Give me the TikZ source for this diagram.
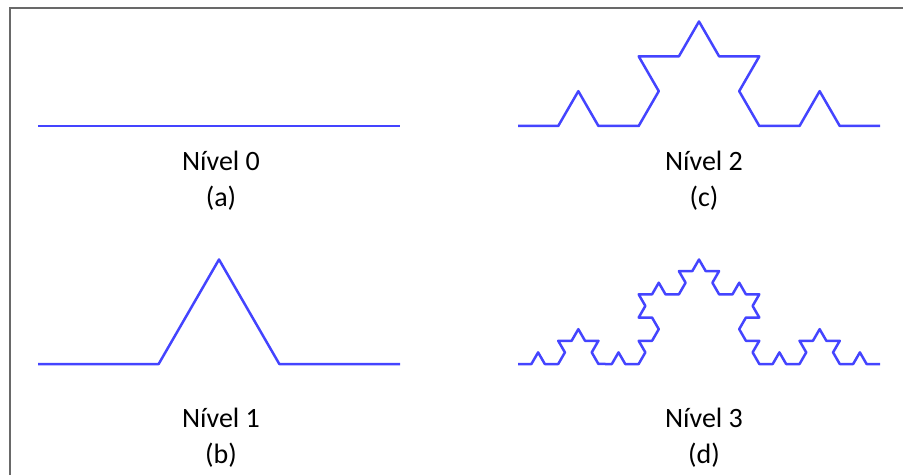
\documentclass[tikz,border=0pt]{standalone}
\usepackage{fontspec}
\setmainfont{Carlito}
\usepackage{tikz}
\usetikzlibrary{decorations.fractals}
\definecolor{kochblue}{RGB}{68,68,255}
\definecolor{framegray}{RGB}{105,105,105}
\tikzset{
  koch/.style  ={draw=kochblue, line width=2.5pt, line join=round, decoration=Koch snowflake},
  lbl/.style   ={anchor=base, inner sep=0pt, font=\fontsize{28}{34}\selectfont},
  frm/.style   ={draw=framegray, line width=1.4pt},
}
\begin{document}
\begin{tikzpicture}[x=1pt,y=1pt]
\useasboundingbox (0,0) rectangle (903,475);
\coordinate (fb) at (10,0); \coordinate (fc) at (10,467); \coordinate (fr) at (903,467);
\draw[frm] (fb) -- (fc) -- (fr);

\coordinate (a0) at (38,349);  \coordinate (a1) at (400,349);
\coordinate (b0) at (38,111);  \coordinate (b1) at (400,111);
\coordinate (c0) at (518,349); \coordinate (c1) at (880,349);
\coordinate (d0) at (518,111); \coordinate (d1) at (880,111);

\draw[koch] (a0) -- (a1);
\draw[koch] decorate{ (b0) -- (b1) };
\draw[koch] decorate{ decorate{ (c0) -- (c1) } };
\draw[koch] decorate{ decorate{ decorate{ (d0) -- (d1) } } };

\node[lbl] (niv0) at (221,305) {Nível 0};
\node[lbl] (capa) at (221,269) {(a)};
\node[lbl] (niv1) at (221,48)  {Nível 1};
\node[lbl] (capb) at (221,12)  {(b)};
\node[lbl] (niv2) at (704,305) {Nível 2};
\node[lbl] (capc) at (704,269) {(c)};
\node[lbl] (niv3) at (704,48)  {Nível 3};
\node[lbl] (capd) at (704,12)  {(d)};
\end{tikzpicture}
\end{document}
